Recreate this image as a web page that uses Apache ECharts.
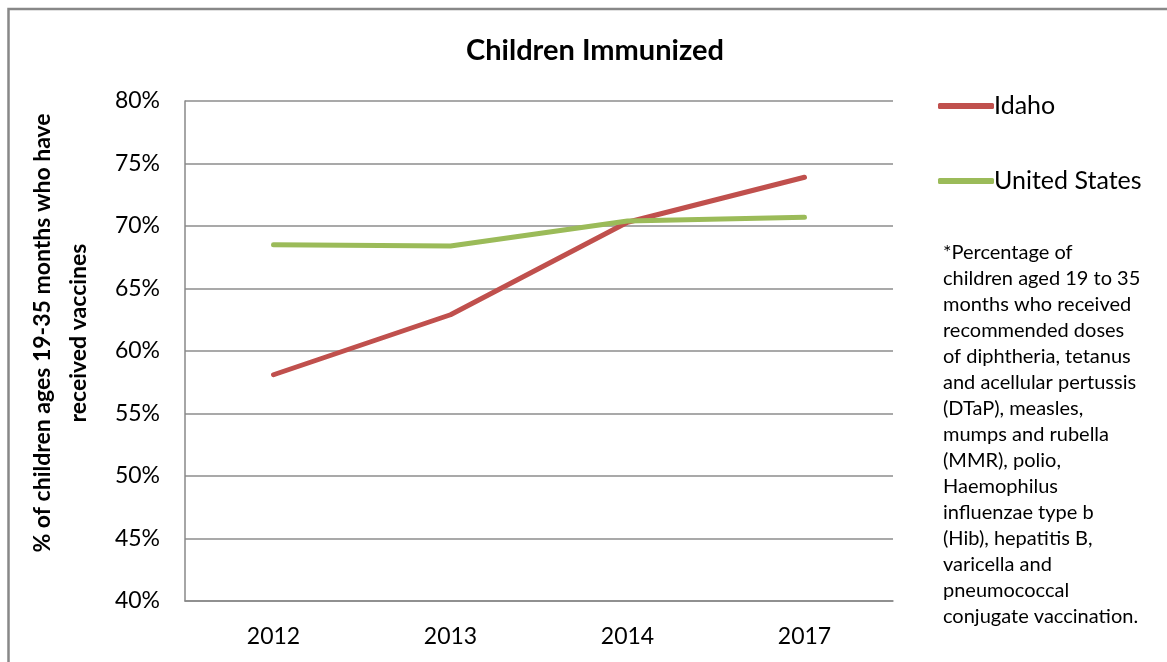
<!DOCTYPE html>
<html>
<head>
<meta charset="utf-8">
<script src="https://cdn.jsdelivr.net/npm/echarts@6/dist/echarts.min.js"></script>
<style>
html,body{margin:0;padding:0;background:#fff;}
#c{width:1167px;height:662px;}
</style>
</head>
<body>
<div id="c"></div>
<script>
const categories = ['2012', '2013', '2014', '2017'];
const idaho = [58.1, 62.9, 70.3, 73.9];
const unitedStates = [68.5, 68.4, 70.4, 70.7];
const yTicks = { min: 40, max: 80, interval: 5 };
const titleText = 'Children Immunized';
const yAxisTitle = '% of children ages 19-35 months who have\nreceived vaccines';
const noteLines = [
  '*Percentage of',
  'children aged 19 to 35',
  'months who received',
  'recommended doses',
  'of diphtheria, tetanus',
  'and acellular pertussis',
  '(DTaP), measles,',
  'mumps and rubella',
  '(MMR), polio,',
  'Haemophilus',
  'influenzae type b',
  '(Hib), hepatitis B,',
  'varicella and',
  'pneumococcal',
  'conjugate vaccination.'
];

const FONT = 'Lato, "Open Sans", sans-serif';
const chart = echarts.init(document.getElementById('c'), null, { renderer: 'canvas' });
chart.setOption({
  backgroundColor: '#ffffff',
  animation: false,
  title: {
    text: titleText,
    left: 590, top: 31, textAlign: 'center',
    textStyle: { fontFamily: FONT, fontWeight: 'bold', fontSize: 29, color: '#000' }
  },
  grid: { left: 185, top: 101, right: 274, bottom: 61 },
  legend: {
    orient: 'vertical',
    left: 933, top: 87,
    itemWidth: 56, itemHeight: 6,
    itemGap: 47,
    icon: 'roundRect',
    textStyle: { fontFamily: FONT, fontSize: 25, color: '#000', lineHeight: 28, padding: [0,0,0,-5] },
    data: ['Idaho', 'United States']
  },
  xAxis: {
    type: 'category',
    data: categories,
    boundaryGap: true,
    axisLine: { show: true, lineStyle: { color: '#888', width: 1.5 } },
    axisTick: { show: false },
    axisLabel: { fontFamily: FONT, fontSize: 23, color: '#000', margin: 24 }
  },
  yAxis: {
    type: 'value',
    min: yTicks.min, max: yTicks.max, interval: yTicks.interval,
    axisLine: { show: true, lineStyle: { color: '#888', width: 1.5 } },
    axisTick: { show: false },
    splitLine: { show: true, lineStyle: { color: '#8c8c8c', width: 1.5 } },
    axisLabel: { fontFamily: FONT, fontSize: 23, color: '#000', margin: 25, formatter: '{value}%' }
  },
  series: [
    {
      name: 'Idaho', type: 'line', data: idaho,
      showSymbol: false, symbol: 'none',
      color: '#C0504D',
      lineStyle: { width: 5, color: '#C0504D', cap: 'round', join: 'round' }
    },
    {
      name: 'United States', type: 'line', data: unitedStates,
      showSymbol: false, symbol: 'none',
      color: '#9BBB59',
      lineStyle: { width: 5, color: '#9BBB59', cap: 'round', join: 'round' }
    }
  ],
  graphic: [
    {
      type: 'rect', silent: true, z: -1,
      shape: { x: 8.5, y: 9, width: 1300, height: 800 },
      style: { fill: 'none', stroke: '#888', lineWidth: 2.5 }
    },
    {
      type: 'text', silent: true,
      x: 61, y: 333, rotation: Math.PI / 2,
      style: {
        text: yAxisTitle,
        fontFamily: FONT, fontWeight: 'bold', fontSize: 23, lineHeight: 36,
        fill: '#000', align: 'center', verticalAlign: 'middle'
      }
    },
    {
      type: 'text', silent: true,
      x: 943, y: 240,
      style: {
        text: noteLines.join('\n'),
        fontFamily: FONT, fontSize: 20, lineHeight: 26,
        fill: '#000', align: 'left', verticalAlign: 'top'
      }
    }
  ]
});
</script>
</body>
</html>
